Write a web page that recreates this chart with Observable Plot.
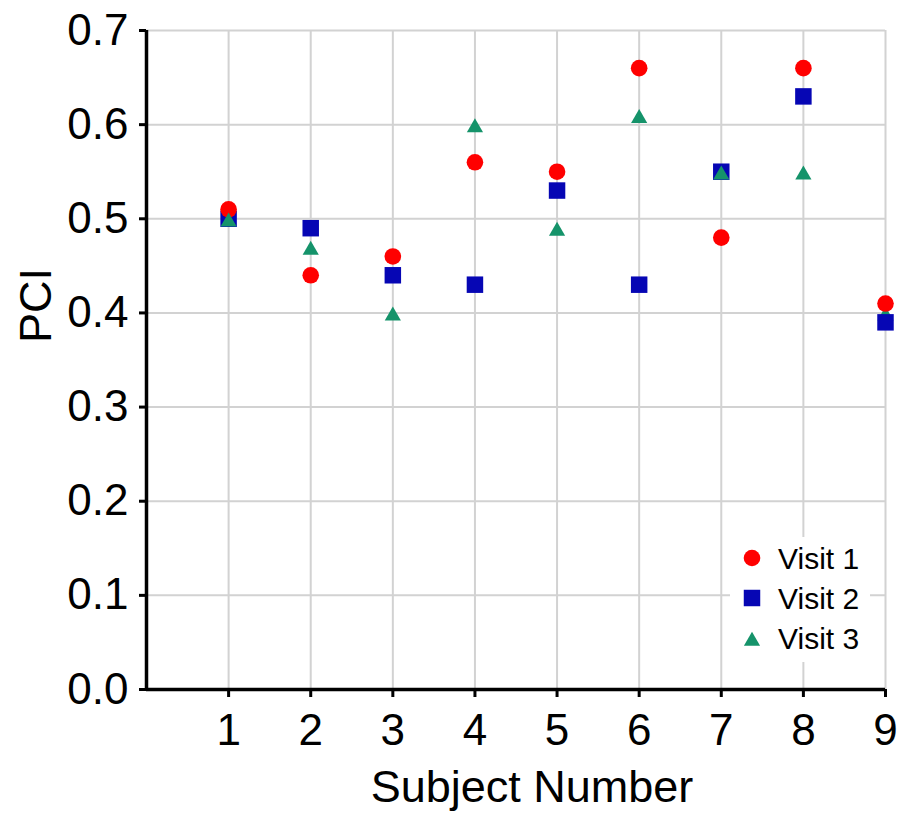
<!DOCTYPE html>
<html>
<head>
<meta charset="utf-8">
<script src="https://cdn.jsdelivr.net/npm/d3@7"></script>
<script src="https://cdn.jsdelivr.net/npm/@observablehq/plot@0.6"></script>
<style>
  html, body { margin: 0; padding: 0; background: white; }
  #wrap { position: relative; width: 903px; height: 816px; font-family: "Liberation Sans", Arial, sans-serif; }
  #legend { position: absolute; left: 730px; top: 537px; width: 140px; height: 125px; background: white; }
</style>
</head>
<body>
<div id="wrap"></div>
<script>
// ---- data ----
const subjects = [1, 2, 3, 4, 5, 6, 7, 8, 9];
const visit1 = [0.51, 0.44, 0.46, 0.56, 0.55, 0.66, 0.48, 0.66, 0.41];
const visit2 = [0.50, 0.49, 0.44, 0.43, 0.53, 0.43, 0.55, 0.63, 0.39];
const visit3 = [0.50, 0.47, 0.40, 0.60, 0.49, 0.61, 0.55, 0.55, 0.40];
const yTicks = [0, 0.1, 0.2, 0.3, 0.4, 0.5, 0.6, 0.7];
const seriesNames = ["Visit 1", "Visit 2", "Visit 3"];
const xLabel = "Subject Number";
const yLabel = "PCI";
// subjects whose Visit 3 marker sits behind the others
const behind3 = [9];

const colors = {"Visit 1": "#ff0000", "Visit 2": "#0606b4", "Visit 3": "#15936a"};
const symbols = {"Visit 1": "circle", "Visit 2": "square", "Visit 3": "triangle"};
const radii = {"Visit 1": 8.3, "Visit 2": 9.3, "Visit 3": 6};
const offsets = {"Visit 1": 0, "Visit 2": 0, "Visit 3": 3};

const rows = (vals, name) => subjects.map((s, i) => ({subject: s, pci: vals[i], visit: name}));
const r1 = rows(visit1, "Visit 1");
const r2 = rows(visit2, "Visit 2");
const r3 = rows(visit3, "Visit 3");

const dotMark = (data, name) => Plot.dot(data, {
  x: "subject", y: "pci", symbol: () => symbols[name], r: radii[name],
  fill: colors[name], stroke: "none", dy: offsets[name]
});

const font = "Liberation Sans, Arial, sans-serif";

const chart = Plot.plot({
  width: 903, height: 816,
  marginLeft: 146, marginRight: 18, marginTop: 30, marginBottom: 127,
  style: {fontFamily: font, background: "white", color: "black"},
  x: {domain: [0, 9]},
  y: {domain: [0, 0.7]},
  symbol: {type: "identity"},
  marks: [
    Plot.gridX(subjects, {stroke: "#d2d2d2", strokeOpacity: 1, strokeWidth: 2}),
    Plot.gridY(yTicks, {stroke: "#d2d2d2", strokeOpacity: 1, strokeWidth: 2}),
    Plot.axisX(subjects, {tickSize: 8, tickPadding: 16, fontSize: 44, strokeWidth: 3, label: null, tickFormat: d => String(d)}),
    Plot.axisY(yTicks, {tickSize: 7, tickPadding: 11, fontSize: 44, strokeWidth: 3, label: null, tickFormat: d3.format(".1f")}),
    Plot.ruleX([0], {strokeWidth: 3.5, stroke: "black"}),
    Plot.ruleY([0], {strokeWidth: 3.5, stroke: "black"}),
    dotMark(r3.filter(d => behind3.includes(d.subject)), "Visit 3"),
    dotMark(r2, "Visit 2"),
    dotMark(r1, "Visit 1"),
    dotMark(r3.filter(d => !behind3.includes(d.subject)), "Visit 3"),
    Plot.text([xLabel], {frameAnchor: "bottom", dx: 16, dy: 81, lineAnchor: "top", fontSize: 45, fill: "black"}),
    Plot.text([yLabel], {frameAnchor: "left", rotate: -90, dx: -110, dy: -17, lineAnchor: "middle", fontSize: 45, fill: "black"})
  ]
});

const wrap = document.getElementById("wrap");
wrap.appendChild(chart);

// ---- legend (inside plot, bottom right) ----
const legendDiv = document.createElement("div");
legendDiv.id = "legend";
wrap.appendChild(legendDiv);
const lsvg = d3.select(legendDiv).append("svg").attr("width", 140).attr("height", 125);
const d3sym = {circle: d3.symbolCircle, square: d3.symbolSquare, triangle: d3.symbolTriangle};
seriesNames.forEach((name, i) => {
  const cy = 21 + i * 40;
  const r = radii[name];
  lsvg.append("path")
    .attr("d", d3.symbol(d3sym[symbols[name]], Math.PI * r * r)())
    .attr("transform", `translate(22,${cy + offsets[name]})`)
    .attr("fill", colors[name]);
  lsvg.append("text")
    .attr("x", 48).attr("y", cy + 11)
    .attr("font-family", font).attr("font-size", 30)
    .attr("fill", "black")
    .text(name);
});
</script>
</body>
</html>
